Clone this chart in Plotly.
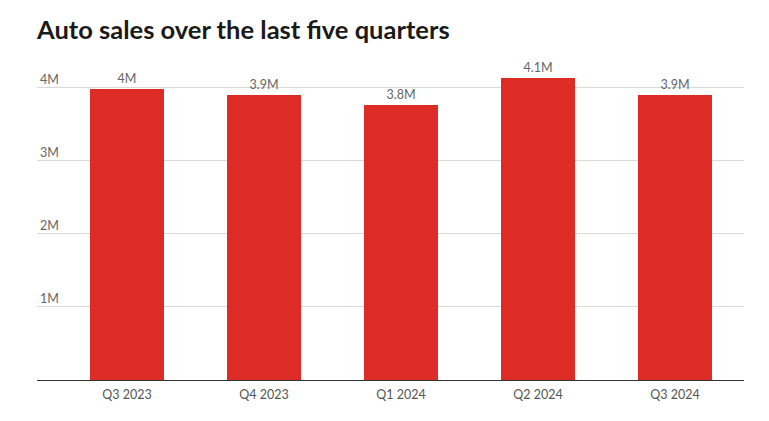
import plotly.graph_objects as go

quarters = ["Q3 2023", "Q4 2023", "Q1 2024", "Q2 2024", "Q3 2024"]
sales = [3.98e6, 3.91e6, 3.77e6, 4.14e6, 3.90e6]
y_ticks = [1e6, 2e6, 3e6, 4e6]

fig = go.Figure(
    go.Bar(
        x=quarters,
        y=sales,
        marker=dict(color="#dd2c26", line=dict(width=0)),
        width=0.54,
        texttemplate="%{y:.2~s}",
        textposition="outside",
        textfont=dict(color="#666666", size=12.5, family="Lato"),
        cliponaxis=False,
        hoverinfo="skip",
    )
)

fig.update_layout(
    width=769,
    height=421,
    margin=dict(l=37, r=25, t=58, b=41),
    paper_bgcolor="white",
    plot_bgcolor="white",
    font=dict(family="Lato", color="#666666", size=12),
    title=dict(
        text="<b>Auto sales over the last five quarters</b>",
        x=37 / 769,
        xanchor="left",
        xref="container",
        y=1 - 30 / 421,
        yanchor="middle",
        yref="container",
        font=dict(family="Lato", size=25.5, color="#1a1a1a"),
    ),
    showlegend=False,
    bargap=0,
)

fig.update_xaxes(
    range=[-0.657, 4.504],
    showgrid=False,
    showline=True,
    linecolor="#333333",
    linewidth=1,
    ticks="",
    ticklabelstandoff=3,
    tickfont=dict(color="#555555", size=12.5),
    zeroline=False,
)

fig.update_yaxes(
    range=[0, 4.41e6],
    tickvals=y_ticks,
    tickformat="~s",
    ticklabelposition="inside top",
    showgrid=True,
    gridcolor="#d9d9d9",
    gridwidth=1,
    zeroline=False,
    showline=False,
    ticks="",
    tickfont=dict(color="#666666", size=12.5),
)

fig.write_html("out.html")
